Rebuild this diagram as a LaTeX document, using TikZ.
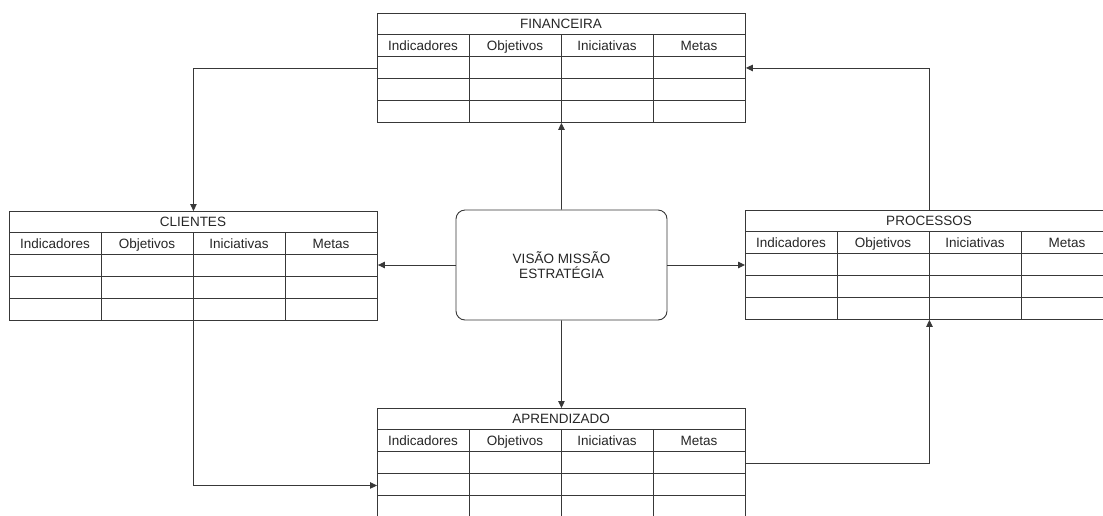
\documentclass[tikz,border=0pt]{standalone}
\usepackage{fontspec}
\setmainfont{Liberation Sans}
\usetikzlibrary{arrows.meta,calc}

% One perspective table: title row, header row and three empty rows.
% #1 node name, #2 left x, #3 top y, #4 title
\newcommand\bsctable[4]{%
  \node[tablebox] (#1) at (#2,#3) {};
  \draw[line] ($(#1.north west)+(0,21)$)   -- ++(368,0);
  \draw[line] ($(#1.north west)+(0,43.5)$) -- ++(368,0);
  \draw[line] ($(#1.north west)+(0,65.5)$) -- ++(368,0);
  \draw[line] ($(#1.north west)+(0,87.5)$) -- ++(368,0);
  \foreach \c in {92,184,276}{
    \draw[line] ($(#1.north west)+(\c,21)$) -- ++(0,88);
  }
  \node[label] (#1-title) at ($(#1.north west)+(184,15.5)$) {#4};
  \node[label] (#1-ind) at ($(#1.north west)+(46,37)$)  {Indicadores};
  \node[label] (#1-obj) at ($(#1.north west)+(138,37)$) {Objetivos};
  \node[label] (#1-ini) at ($(#1.north west)+(230,37)$) {Iniciativas};
  \node[label] (#1-met) at ($(#1.north west)+(322,37)$) {Metas};
}

\begin{document}
\begin{tikzpicture}[x=1pt,y=-1pt,
  line/.style={draw=black!78, line width=0.9pt},
  tablebox/.style={line, rectangle, minimum width=368pt, minimum height=109pt,
                   anchor=north west, inner sep=0pt},
  label/.style={text=black!85, font=\fontsize{13.5}{15}\selectfont,
                inner sep=0pt, anchor=base},
  corebox/.style={line, rectangle, rounded corners=9pt, minimum width=211pt,
                  minimum height=110pt, align=center, text=black!85,
                  font=\fontsize{13.5}{15}\selectfont},
  link/.style={line, -{Triangle[length=7pt,width=6.5pt]}},
]
\useasboundingbox (0,0) rectangle (1103,515);
\clip (0,0) rectangle (1103,515);
\fill[white] (0,0) rectangle (1103,515);

\bsctable{fin}{377}{13}{FINANCEIRA}
\bsctable{cli}{9}{211}{CLIENTES}
\bsctable{proc}{745}{210}{PROCESSOS}
\bsctable{apr}{377}{408}{APRENDIZADO}

\node[corebox] (core) at (561.5,265) {VISÃO MISSÃO\\ESTRATÉGIA};

% core to the four perspectives
\draw[link] (core.north) -- (fin.south);
\draw[link] (core.south) -- (apr.north);
\draw[link] (core.west)  -- (core.west -| cli.east);
\draw[link] (core.east)  -- (core.east -| proc.west);

% cycle between the perspectives
\coordinate (aprIn) at ($(apr.west)+(0,22.5)$);
\draw[link] (fin.west)   -| (cli.north);
\draw[link] (cli.south)  |- (aprIn);
\draw[link] (apr.east)   -| (proc.south);
\draw[link] (proc.north) |- (fin.east);
\end{tikzpicture}
\end{document}
